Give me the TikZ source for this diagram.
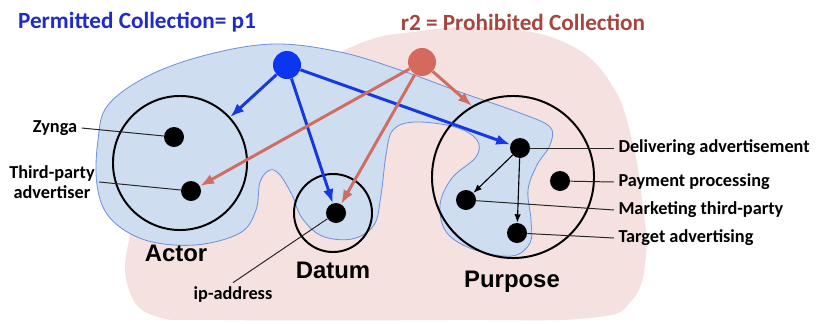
\documentclass[tikz,border=0pt]{standalone}
\usepackage{fontspec}
\setmainfont{Carlito}
\newfontfamily\headfont{Liberation Sans}
\usetikzlibrary{arrows.meta}
\definecolor{permitBlue}{HTML}{1F2BC9}
\definecolor{prohibitRed}{HTML}{A5473F}
\definecolor{permitDot}{HTML}{0A36F0}
\definecolor{prohibitDot}{HTML}{D46A5E}
\definecolor{permitArrow}{HTML}{1538E0}
\definecolor{prohibitArrow}{HTML}{CF6D63}
\definecolor{permitFill}{HTML}{CFDDF0}
\definecolor{permitLine}{HTML}{6F93DC}
\definecolor{prohibitFill}{HTML}{F5E1DF}
\tikzset{
    blackdot/.style={circle,fill=black,inner sep=0pt,minimum size=0.5cm},
    srcdot/.style={circle,inner sep=0pt,minimum size=0.7cm},
    setring/.style={circle,draw=black,line width=1.4pt,inner sep=0pt},
    setname/.style={font=\headfont\bfseries\fontsize{17}{20}\selectfont},
    titletext/.style={font=\bfseries\fontsize{16.5}{19}\selectfont},
    itemlabel/.style={font=\bfseries\fontsize{13}{14.2}\selectfont,inner sep=3pt},
    leader/.style={draw=black!85,line width=0.7pt},
    permitarrow/.style={-{Latex[length=10pt,width=7.5pt]},draw=permitArrow,line width=2.1pt},
    prohibitarrow/.style={-{Latex[length=10pt,width=7.5pt]},draw=prohibitArrow,line width=2.1pt},
    innerarrow/.style={-{Latex[length=6pt,width=4.5pt]},line width=0.8pt}
}
\begin{document}
\begin{tikzpicture}[x=0.025cm,y=-0.025cm]
        \useasboundingbox (0,0) rectangle (817,323);
        % 粉色区域：禁止收集
        \fill[prohibitFill] plot[smooth cycle,tension=0.7] coordinates {
            (345,50) (420,31) (500,28) (570,45) (612,85) (632,140) (642,200)
            (646,255) (632,300) (590,318) (450,320) (220,320) (155,316)
            (129,290) (128,245) (150,200) (230,120)};
        % 蓝色区域：允许收集
        \filldraw[fill=permitFill,draw=permitLine,line width=0.6pt]
            plot[smooth cycle,tension=0.6] coordinates {
            (98,140) (108,105) (150,75) (210,54) (275,44) (340,52) (400,70)
            (460,92) (520,113) (550,127) (550,145) (537,165) (528,190)
            (531,220) (530,243) (512,256) (475,250) (447,233) (440,205)
            (452,178) (476,157) (477,140) (455,127) (415,122) (393,130)
            (386,155) (381,195) (374,225) (352,239) (322,236) (302,218)
            (292,195) (280,175) (270,170) (260,182) (256,210) (240,233)
            (195,245) (145,240) (110,218) (97,185)};

        \node[titletext,text=permitBlue] (ptitle) at (137,22) {Permitted Collection= p1};
        \node[titletext,text=prohibitRed] (rtitle) at (523,22) {r2 = Prohibited Collection};

        % 三个集合
        \node[setring,minimum size=3.35cm] (actor) at (180,163) {};
        \node[setring,minimum size=1.95cm] (datum) at (333,213) {};
        \node[setring,minimum size=4.05cm] (purpose) at (513,177) {};
        \node[setname] (actorName) at (176,253) {Actor};
        \node[setname] (datumName) at (333,270) {Datum};
        \node[setname] (purposeName) at (512,282) {Purpose};

        \node[blackdot] (zynga) at (174,137) {};
        \node[blackdot] (tpa) at (191,191) {};
        \node[blackdot] (ip) at (336,213) {};
        \node[blackdot] (deliver) at (520,148) {};
        \node[blackdot] (payment) at (560,181) {};
        \node[blackdot] (market) at (466,200) {};
        \node[blackdot] (target) at (517,233) {};

        \node[srcdot,fill=permitDot] (p1) at (287,65) {};
        \node[srcdot,fill=prohibitDot] (r2) at (422,62) {};

        % 标注文字与引线
        \node[itemlabel] (zyngaTxt) at (55,128) {Zynga};
        \node[itemlabel,align=center] (tpaTxt) at (52,182) {Third-party\\advertiser};
        \node[itemlabel] (ipTxt) at (233,295) {ip-address};
        \node[itemlabel,anchor=west] (deliverTxt) at (614,148) {Delivering advertisement};
        \node[itemlabel,anchor=west] (paymentTxt) at (614,182) {Payment processing};
        \node[itemlabel,anchor=west] (marketTxt) at (614,210) {Marketing third-party};
        \node[itemlabel,anchor=west] (targetTxt) at (614,238) {Target advertising};

        \draw[leader] (zyngaTxt.east) -- (zynga);
        \draw[leader] (tpaTxt.east) -- (tpa);
        \draw[leader] (ipTxt.north) -- (ip);
        \draw[leader] (deliver) -- (deliverTxt.west);
        \draw[leader] (payment) -- (paymentTxt.west);
        \draw[leader] (market) -- (marketTxt.west);
        \draw[leader] (target) -- (targetTxt.west);

        % p1 与 r2 的指向
        \draw[permitarrow] (p1) -- (actor);
        \draw[permitarrow] (p1) -- (ip);
        \draw[permitarrow] (p1) -- (deliver);
        \draw[prohibitarrow] (r2) -- (tpa);
        \draw[prohibitarrow] (r2) -- (ip);
        \draw[prohibitarrow] (r2) -- (purpose.120);

        \draw[innerarrow] (deliver) -- (market);
        \draw[innerarrow] (deliver) -- (target);
    \end{tikzpicture}
\end{document}
